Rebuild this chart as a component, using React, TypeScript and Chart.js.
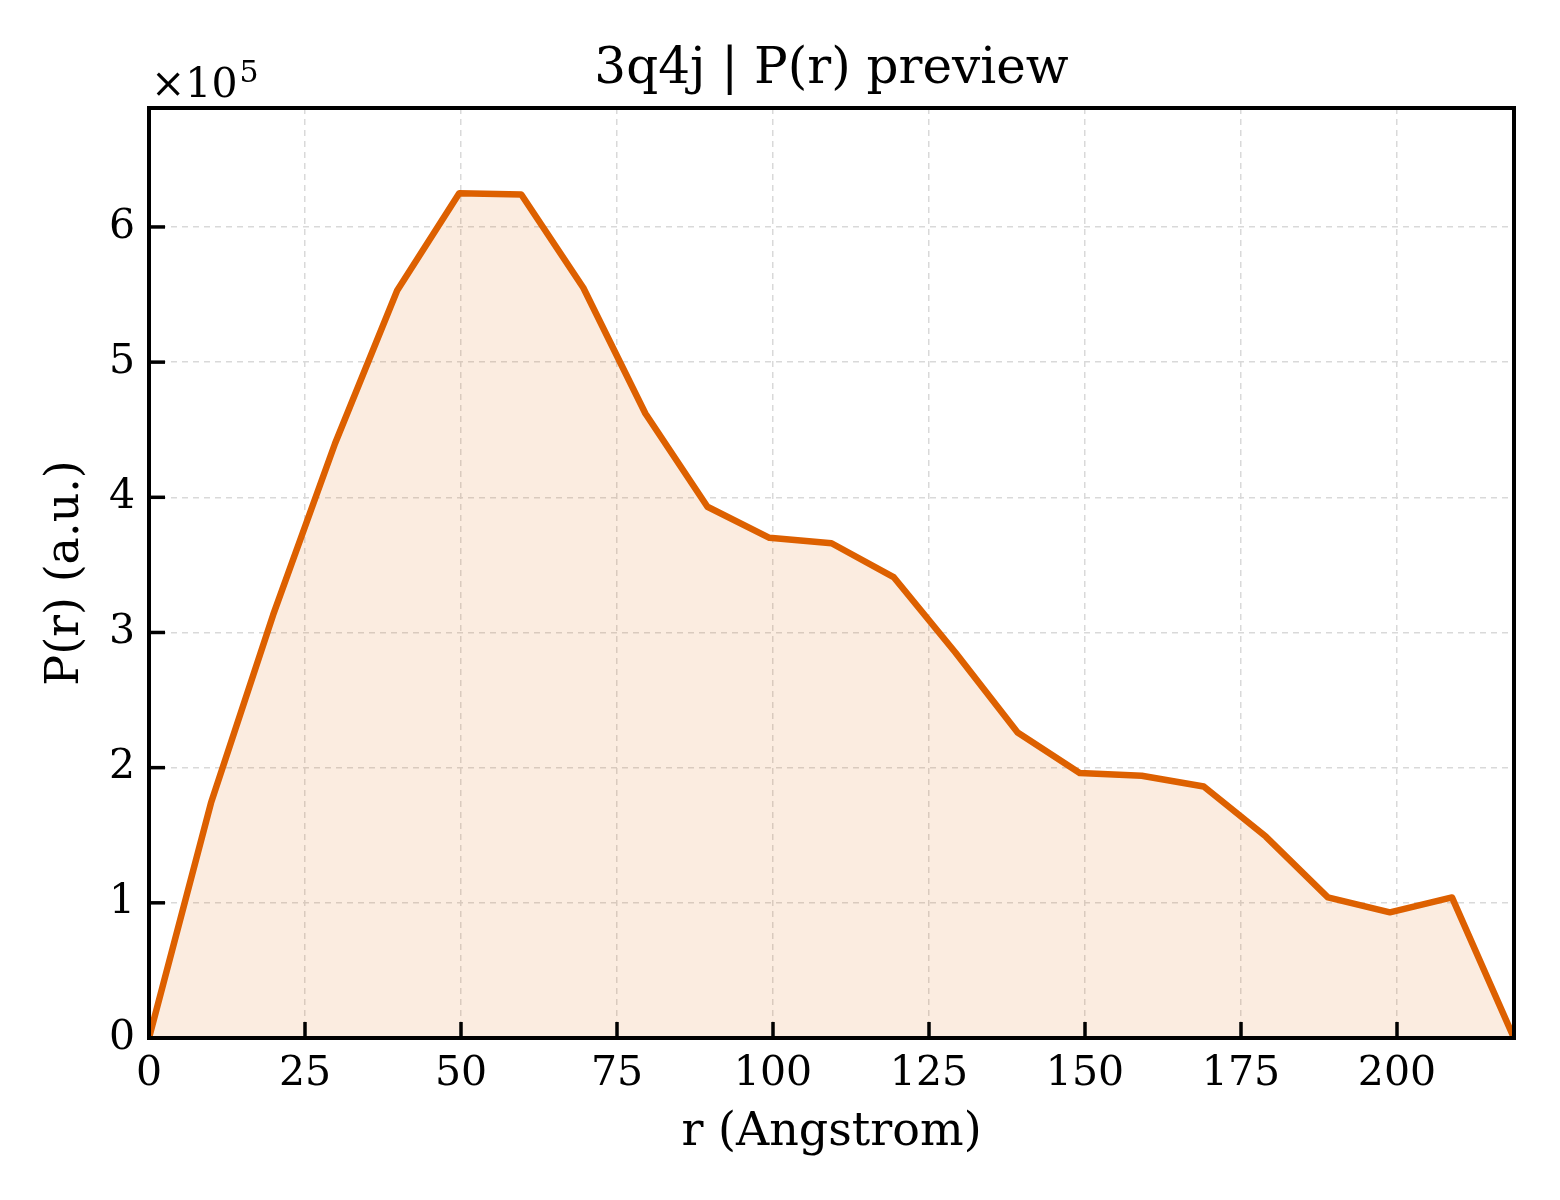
import { useEffect, useRef } from 'react';
import { Chart, registerables } from 'chart.js';

Chart.register(...registerables);

// r (Angstrom) y valores P(r)
const rValues = [
  0, 9.94, 19.89, 29.83, 39.77, 49.72, 59.66, 69.6, 79.55, 89.49, 99.43, 109.38,
  119.32, 129.26, 139.2, 149.15, 159.09, 169.03, 178.98, 188.92, 198.86, 208.81, 218.75,
];
const prValues = [
  0, 174000, 313000, 440000, 553000, 625000, 624000, 555000, 462000, 393000, 370000, 366000,
  341000, 285000, 226000, 196000, 194000, 186000, 149000, 104000, 93000, 104000, 0,
];
const xTicks = [0, 25, 50, 75, 100, 125, 150, 175, 200];
const yTicks = [0, 1, 2, 3, 4, 5, 6];

const SERIF = '"DejaVu Serif", serif';
const LINE = '#dd6000';

// Ticks hacia adentro, marco y multiplicador ×10^5
const framePlugin = {
  id: 'frame',
  afterDraw(chart: Chart) {
    const { ctx, chartArea } = chart;
    const { left, right, top, bottom } = chartArea;
    const xs = chart.scales.x;
    const ys = chart.scales.y;
    ctx.save();
    ctx.strokeStyle = '#000';
    ctx.lineWidth = 3.5;
    xTicks.forEach((v) => {
      const px = xs.getPixelForValue(v);
      ctx.beginPath();
      ctx.moveTo(px, bottom);
      ctx.lineTo(px, bottom - 16);
      ctx.stroke();
    });
    yTicks.forEach((v) => {
      const py = ys.getPixelForValue(v * 1e5);
      ctx.beginPath();
      ctx.moveTo(left, py);
      ctx.lineTo(left + 16, py);
      ctx.stroke();
    });
    ctx.lineWidth = 4;
    ctx.strokeRect(left, top, right - left, bottom - top);

    ctx.fillStyle = '#000';
    ctx.textBaseline = 'alphabetic';
    ctx.textAlign = 'left';
    ctx.font = `41px ${SERIF}`;
    const base = '×10';
    ctx.fillText(base, left + 2, top - 11);
    const w = ctx.measureText(base).width;
    ctx.font = `30px ${SERIF}`;
    ctx.fillText('5', left + 2 + w + 2, top - 26);
    ctx.restore();
  },
};

const App = () => {
  const canvasRef = useRef<HTMLCanvasElement | null>(null);
  const chartRef = useRef<Chart | null>(null);

  useEffect(() => {
    document.body.style.margin = '0';
    if (!canvasRef.current) return;
    const ctx = canvasRef.current.getContext('2d');
    if (!ctx) return;
    if (chartRef.current) chartRef.current.destroy();

    chartRef.current = new Chart(ctx, {
      type: 'line',
      data: {
        datasets: [
          {
            label: 'P(r)',
            data: rValues.map((r, i) => ({ x: r, y: prValues[i] })),
            borderColor: LINE,
            backgroundColor: 'rgba(221, 96, 0, 0.12)',
            borderWidth: 6.5,
            borderJoinStyle: 'round',
            pointRadius: 0,
            tension: 0,
            fill: 'origin',
          },
        ],
      },
      options: {
        animation: false,
        responsive: true,
        maintainAspectRatio: false,
        layout: { padding: { left: 0, right: 46, top: 0, bottom: 0 } },
        plugins: {
          legend: { display: false },
          tooltip: { enabled: false },
          title: {
            display: true,
            text: '3q4j | P(r) preview',
            color: '#000',
            fullSize: false,
            font: { family: SERIF, size: 50, weight: 'normal', lineHeight: 1.2 },
            padding: { top: 40, bottom: 8 },
          },
        },
        scales: {
          x: {
            type: 'linear',
            min: 0,
            max: 218.75,
            afterFit: (scale: any) => {
              scale.height = 162;
            },
            afterBuildTicks: (scale: any) => {
              scale.ticks = xTicks.map((v) => ({ value: v }));
            },
            ticks: {
              color: '#000',
              font: { family: SERIF, size: 41 },
              padding: 12,
              maxRotation: 0,
              autoSkip: false,
            },
            grid: {
              color: '#d9d9d9',
              lineWidth: 1.5,
              drawTicks: false,
            },
            border: { display: false, dash: [6, 5] },
            title: {
              display: true,
              text: 'r (Angstrom)',
              color: '#000',
              font: { family: SERIF, size: 46, lineHeight: 1.2 },
              padding: { top: 0, bottom: 39 },
            },
          },
          y: {
            type: 'linear',
            min: 0,
            max: 688000,
            afterFit: (scale: any) => {
              scale.width = 149;
            },
            afterBuildTicks: (scale: any) => {
              scale.ticks = yTicks.map((v) => ({ value: v * 1e5 }));
            },
            ticks: {
              color: '#000',
              font: { family: SERIF, size: 41 },
              padding: 14,
              autoSkip: false,
              callback: (v: any) => String(Math.round(Number(v) / 1e5)),
            },
            grid: {
              color: '#d9d9d9',
              lineWidth: 1.5,
              drawTicks: false,
            },
            border: { display: false, dash: [6, 5] },
            title: {
              display: true,
              text: 'P(r) (a.u.)',
              color: '#000',
              font: { family: SERIF, size: 46, lineHeight: 1.2 },
              padding: { top: 38, bottom: 0 },
            },
          },
        },
      },
      plugins: [framePlugin],
    });

    return () => {
      chartRef.current?.destroy();
      chartRef.current = null;
    };
  }, []);

  return (
    <div style={{ position: 'relative', width: 1560, height: 1200, background: '#fff' }}>
      <canvas ref={canvasRef} />
    </div>
  );
};

export default App;
